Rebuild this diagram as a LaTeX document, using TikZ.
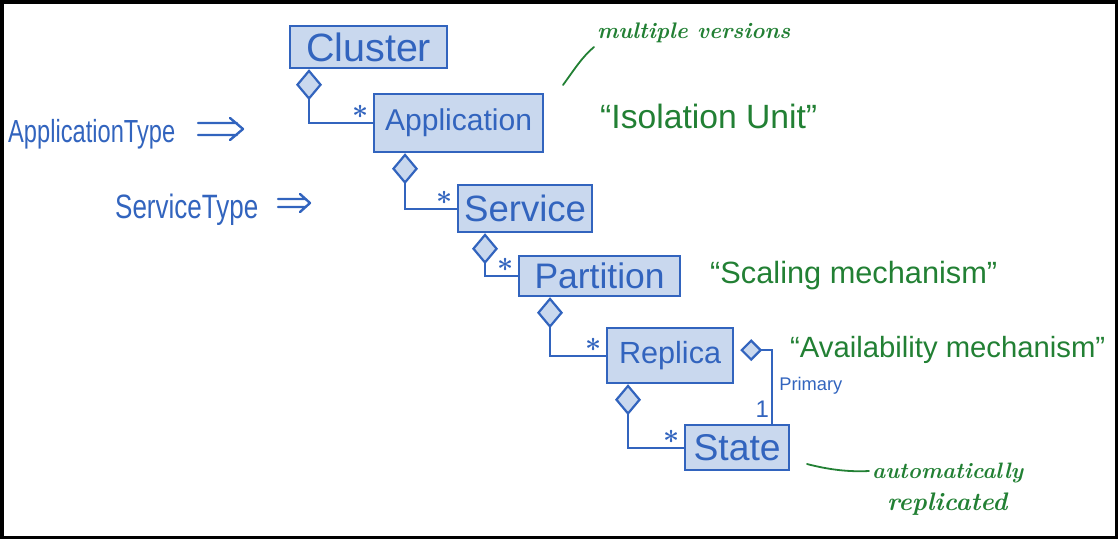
\documentclass[tikz,border=0pt]{standalone}
\usepackage{fontspec}
\usepackage{graphicx}
\usetikzlibrary{arrows.meta}
\newfontfamily\handfont{Liberation Sans}
\definecolor{inkblue}{RGB}{50,100,190}
\definecolor{boxfill}{RGB}{201,216,238}
\definecolor{inkgreen}{RGB}{34,128,52}
% scale a piece of text to a given width
\newcommand{\fitto}[2]{\resizebox{#1}{!}{#2}}
% scale to a width, then stretch vertically
\newcommand{\fittall}[3]{\scalebox{1}[#2]{\resizebox{#1}{!}{#3}}}
% multiplicity star
\newcommand{\manystar}{\scalebox{2.8}{\boldmath$\ast$}}

\begin{document}
\begin{tikzpicture}[x=1pt,y=-1pt,
  cls/.style={draw=inkblue, fill=boxfill, line width=2.2pt, inner sep=0pt,
    anchor=north west, text=inkblue, font=\handfont},
  agg/.style={draw=inkblue, line width=2.2pt,
    {Diamond[fill=boxfill, length=31pt, width=26pt]}-},
  aggsmall/.style={draw=inkblue, line width=2.2pt,
    {Diamond[fill=boxfill, length=22pt, width=22pt]}-},
  mult/.style={text=inkblue, inner sep=0pt, at end, xshift=-12pt, yshift=11pt},
  ink/.style={text=inkblue, inner sep=0pt, anchor=base west, font=\handfont},
  note/.style={text=inkgreen, inner sep=0pt, anchor=base west, font=\handfont},
  cnote/.style={text=inkgreen, inner sep=0pt, anchor=base west, font=\bfseries\itshape},
  pen/.style={draw=inkgreen, line width=1.8pt, line cap=round},
  dblarrow/.style={draw=inkblue, line width=2.4pt, line cap=round, line join=round}
]
\useasboundingbox (0,0) rectangle (1118,539);
\draw[line width=3.5pt] (1.75,1.75) rectangle (1116.25,537.25);

% class boxes
\node[cls, minimum width=157pt, minimum height=42pt] (cluster) at (289,25) {\fitto{125pt}{Cluster}};
\node[cls, minimum width=169pt, minimum height=58pt] (application) at (373,93) {\fitto{147pt}{Application}};
\node[cls, minimum width=134pt, minimum height=47pt] (service) at (457,184) {\fitto{122pt}{Service}};
\node[cls, minimum width=161pt, minimum height=40pt] (partition) at (518,255) {\fitto{130pt}{Partition}};
\node[cls, minimum width=126pt, minimum height=55pt] (replica) at (606,327) {\fitto{102pt}{Replica}};
\node[cls, minimum width=104pt, minimum height=45pt] (state) at (684,424) {\fitto{87pt}{State}};

% aggregations
\draw[agg] ([xshift=20pt]cluster.south west) |- (application.west) node[mult] {\manystar};
\draw[agg] ([xshift=32pt]application.south west) |- (service.west) node[mult] {\manystar};
\draw[agg] ([xshift=28pt]service.south west) |- (partition.west) node[mult] {\manystar};
\draw[agg] ([xshift=32pt]partition.south west) |- (replica.west) node[mult] {\manystar};
\draw[agg] ([xshift=22pt]replica.south west) |- (state.west) node[mult] {\manystar};
\draw[aggsmall] ([xshift=6pt,yshift=5.5pt]replica.east) -| ([xshift=-18pt]state.north east)
  node[pos=0.74, anchor=west, xshift=6pt, text=inkblue, inner sep=0pt, font=\handfont] (primary) {\fitto{63pt}{Primary}}
  node[at end, xshift=-10pt, yshift=15pt, text=inkblue, inner sep=0pt, font=\handfont\fontsize{24}{24}\selectfont] (one) {1};

% type annotations on the left
\node[ink] (apptype) at (8,142) {\fittall{167pt}{1.35}{ApplicationType}};
\coordinate (appimp) at (243,129);
\draw[dblarrow] ([shift={(-45,-6)}]appimp) -- ([shift={(-6,-6)}]appimp)
                ([shift={(-45,6)}]appimp) -- ([shift={(-6,6)}]appimp)
                ([shift={(-13,-11)}]appimp) -- (appimp) -- ([shift={(-13,11)}]appimp);
\node[ink] (svctype) at (115,218) {\fittall{143pt}{1.3}{ServiceType}};
\coordinate (svcimp) at (310,203);
\draw[dblarrow] ([shift={(-32,-4)}]svcimp) -- ([shift={(-5,-4)}]svcimp)
                ([shift={(-32,4)}]svcimp) -- ([shift={(-5,4)}]svcimp)
                ([shift={(-10,-9)}]svcimp) -- (svcimp) -- ([shift={(-10,9)}]svcimp);

% remarks
\node[cnote] (versions) at (597,38) {\fitto{193pt}{multiple versions}};
\coordinate (vtail) at (563,85);
\coordinate (vhead) at (594,47);
\draw[pen] (vtail) .. controls (574,70) and (582,57) .. (vhead);
\node[note] (isolation) at (600,128) {\fitto{217pt}{“Isolation Unit”}};
\node[note] (scaling) at (710,283) {\fitto{287pt}{“Scaling mechanism”}};
\node[note] (avail) at (790,357) {\fitto{315pt}{“Availability mechanism”}};
\node[cnote] (auto) at (872,478) {\fitto{151pt}{automatically}};
\node[cnote] (repl) at (887,510) {\fitto{120pt}{replicated}};
\coordinate (atail) at (807,464);
\coordinate (ahead) at (869,471);
\draw[pen] (atail) .. controls (830,470) and (850,472) .. (ahead);
\end{tikzpicture}
\end{document}
